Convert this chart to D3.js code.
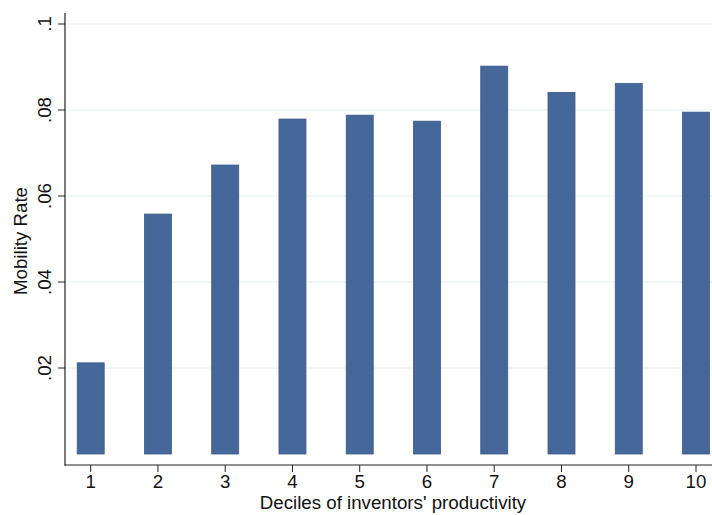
<!DOCTYPE html>
<html>
<head>
<meta charset="utf-8">
<script src="https://cdn.jsdelivr.net/npm/d3@7"></script>
<style>
  body { margin: 0; background: #fff; }
  text { font-family: "Liberation Sans", Arial, sans-serif; fill: #111; }
</style>
</head>
<body>
<div id="container"></div>
<script>
let width = 712;
let height = 515;

// data
let deciles = [1, 2, 3, 4, 5, 6, 7, 8, 9, 10];
let mobility = [0.0212, 0.0558, 0.0672, 0.0779, 0.0788, 0.0774, 0.0902, 0.0841, 0.0862, 0.0795];
let yTicks = [0.02, 0.04, 0.06, 0.08, 0.1];

let svg = d3.select("#container")
  .append("svg")
  .attr("width", width)
  .attr("height", height);

// scales
let x = d3.scaleLinear().domain([1, 10]).range([90.7, 696]);
let y = d3.scaleLinear().domain([0, 0.1]).range([454, 24]);
let barW = 27;
let axisX = 65, axisY = 465;
let fs = 18.7;

// gridlines
svg.selectAll("line.grid")
  .data(yTicks)
  .join("line")
  .attr("x1", axisX)
  .attr("x2", width)
  .attr("y1", d => y(d))
  .attr("y2", d => y(d))
  .attr("stroke", "#e4eef2")
  .attr("stroke-width", 1);

// bars
svg.selectAll("rect.bar")
  .data(deciles)
  .join("rect")
  .attr("x", (d) => x(d) - barW / 2)
  .attr("y", (d, i) => y(mobility[i]))
  .attr("width", barW)
  .attr("height", (d, i) => y(0) - y(mobility[i]))
  .attr("fill", "#46679a")
  .attr("stroke", "#3b5a88")
  .attr("stroke-width", 0.8);

// y axis
svg.append("line")
  .attr("x1", axisX).attr("x2", axisX)
  .attr("y1", 13).attr("y2", axisY + 0.5)
  .attr("stroke", "#222").attr("stroke-width", 1.2);

svg.selectAll("line.ytick")
  .data(yTicks)
  .join("line")
  .attr("x1", axisX - 7).attr("x2", axisX)
  .attr("y1", d => y(d)).attr("y2", d => y(d))
  .attr("stroke", "#222");

let fmt = d => d3.format(".2f")(d).replace(/^0/, "").replace(/0$/, "");
svg.selectAll("text.ytick")
  .data(yTicks)
  .join("text")
  .attr("transform", d => `translate(51,${y(d)}) rotate(-90)`)
  .attr("text-anchor", "middle")
  .attr("font-size", fs)
  .text(fmt);

svg.append("text")
  .attr("transform", `translate(27,241) rotate(-90)`)
  .attr("text-anchor", "middle")
  .attr("font-size", fs)
  .text("Mobility Rate");

// x axis
svg.append("line")
  .attr("x1", axisX - 0.5).attr("x2", width)
  .attr("y1", axisY).attr("y2", axisY)
  .attr("stroke", "#222").attr("stroke-width", 1.2);

svg.selectAll("line.xtick")
  .data(deciles)
  .join("line")
  .attr("x1", d => x(d)).attr("x2", d => x(d))
  .attr("y1", axisY).attr("y2", axisY + 7)
  .attr("stroke", "#222");

svg.selectAll("text.xtick")
  .data(deciles)
  .join("text")
  .attr("x", d => x(d))
  .attr("y", 488)
  .attr("text-anchor", "middle")
  .attr("font-size", fs)
  .text(d => d);

svg.append("text")
  .attr("x", 393)
  .attr("y", 509)
  .attr("text-anchor", "middle")
  .attr("font-size", fs)
  .text("Deciles of inventors' productivity");
</script>
</body>
</html>
